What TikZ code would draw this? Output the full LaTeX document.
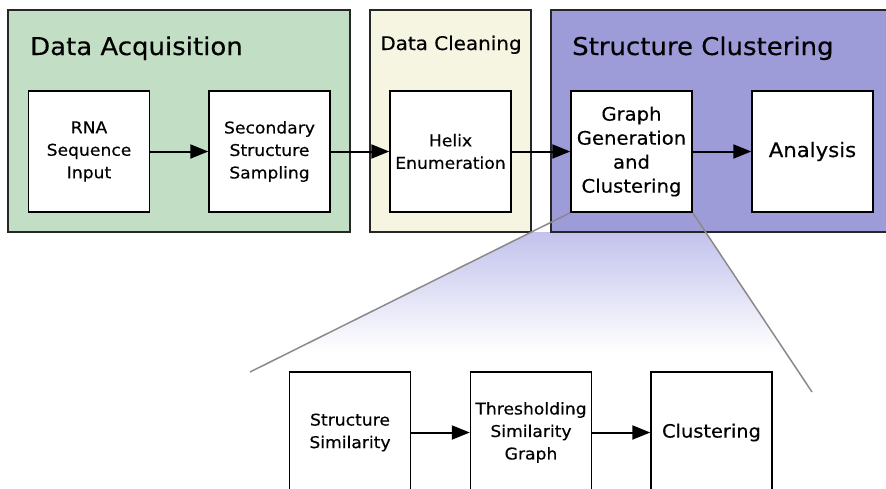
\documentclass[tikz,border=0pt]{standalone}
\usepackage{fontspec}
\setmainfont{DejaVu Sans}[FakeStretch=1.06, FakeBold=0.35]
\usetikzlibrary{arrows.meta}

\definecolor{acqfill}{HTML}{C2DFC6}
\definecolor{cleanfill}{HTML}{F5F5E1}
\definecolor{clusterfill}{HTML}{9D9CD9}
\definecolor{zoomtop}{HTML}{C2C2EC}
\definecolor{zoomline}{HTML}{8A8A8A}

\tikzset{
  panel/.style={draw=black!85, line width=1.3pt},
  stepbox/.style={draw=black, fill=white, line width=1.4pt, inner sep=0pt,
    minimum width=121pt, minimum height=121pt, align=center,
    font=\fontsize{16.2}{22.5}\selectfont},
  bigstep/.style={stepbox, font=\fontsize{18.5}{24}\selectfont},
  paneltitle/.style={anchor=base west, inner sep=0pt, font=\fontsize{24.5}{28}\selectfont},
  flow/.style={line width=2pt, -{Triangle[length=18pt,width=14pt]}},
  zoomedge/.style={draw=zoomline, line width=1.5pt}
}

\begin{document}
\begin{tikzpicture}[x=1pt, y=-1pt]
\useasboundingbox (0,0) rectangle (886,488);

% zoom-in fan below the clustering stage
\coordinate (fanL) at (250,372);
\coordinate (fanR) at (812,392);
\begin{scope}
  \clip (571,212) -- (692,212) -- (fanR) -- (fanL) -- cycle;
  \shade[top color=zoomtop, bottom color=white] (240,232) rectangle (830,352);
\end{scope}

% stage panels
\draw[panel, fill=acqfill] (8,10) rectangle (350,232);
\draw[panel, fill=cleanfill] (370,10) rectangle (531,232);
\draw[panel, fill=clusterfill] (551,10) rectangle (900,232);

\node[paneltitle] (tAcq) at (30,55) {Data Acquisition};
\node[anchor=base, inner sep=0pt, font=\fontsize{18.8}{22}\selectfont] (tClean) at (451,50) {Data Cleaning};
\node[paneltitle] (tClu) at (572,55) {Structure Clustering};

% pipeline steps
\node[stepbox] (rna) at (89,151.5) {RNA\\Sequence\\Input};
\node[stepbox] (sec) at (269.5,151.5) {Secondary\\Structure\\Sampling};
\node[stepbox] (helix) at (450.5,151.5) {Helix\\Enumeration};
\node[bigstep] (graph) at (631.5,151.5) {Graph\\Generation\\and\\Clustering};
\node[stepbox, font=\fontsize{20}{24}\selectfont] (ana) at (812.5,151.5) {Analysis};

\draw[flow] (rna) -- (sec);
\draw[flow] (sec) -- (helix);
\draw[flow] (helix) -- (graph);
\draw[flow] (graph) -- (ana);

% fan edges
\draw[zoomedge] (graph.south west) -- (fanL);
\draw[zoomedge] (graph.south east) -- (fanR);

% detail of graph generation and clustering
\node[stepbox] (sim) at (350,432.5) {Structure\\Similarity};
\node[stepbox] (thr) at (531,432.5) {Thresholding\\Similarity\\Graph};
\node[stepbox, font=\fontsize{18.3}{22}\selectfont] (clu) at (711.5,432.5) {Clustering};

\draw[flow] (sim) -- (thr);
\draw[flow] (thr) -- (clu);
\end{tikzpicture}
\end{document}
